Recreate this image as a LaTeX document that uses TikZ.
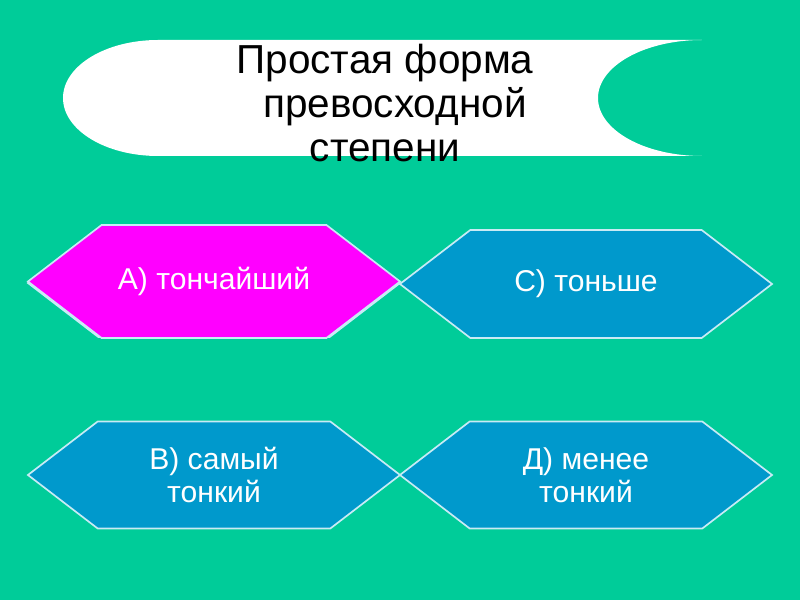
\documentclass[tikz,border=0pt]{standalone}
\usepackage{fontspec}
\setmainfont{Liberation Sans}
\usetikzlibrary{shapes.symbols, positioning}
\definecolor{bggreen}{RGB}{0,204,153}
\definecolor{hexblue}{RGB}{0,153,204}
\definecolor{hexpink}{RGB}{255,0,255}
\definecolor{rimcol}{RGB}{200,235,245}
\tikzstyle{hexbox} = [signal, signal to=west and east, signal pointer angle=75, draw=rimcol, line width=0.6pt, text=white, align=center, minimum width=4.65cm, minimum height=1.35cm, font=\fontsize{10.7}{11.8}\selectfont]
\tikzstyle{titletext} = [align=center, font=\fontsize{14.4}{15.7}\selectfont]

\begin{document}
\begin{tikzpicture}[x=0.0125cm, y=0.0125cm]
        \fill[bggreen] (0,0) rectangle (800,600);
        \useasboundingbox (0,0) rectangle (800,600);
        % white banner
        \fill[white] (158,560) -- (702,560) arc[start angle=90, end angle=270, x radius=104, y radius=58]
            -- (158,444) arc[start angle=270, end angle=90, x radius=95, y radius=58] -- cycle;
        \node[titletext] (title) at (385,497) {Простая форма\\ \hspace*{0.25cm}превосходной\\ степени};
        % answers
        \node[hexbox, fill=hexblue] (shadow) at (214,317) {};
        \node[hexbox, fill=hexpink, minimum height=1.4125cm] (optA) at (214,318.5) {А) тончайший};
        \node[hexbox, fill=hexblue] (optC) at (586,316) {С) тоньше};
        \node[hexbox, fill=hexblue, minimum height=1.3375cm] (optB) at (214,125) {В) самый\\ тонкий};
        \node[hexbox, fill=hexblue, minimum height=1.3375cm] (optD) at (586,125) {Д) менее\\ тонкий};
    \end{tikzpicture}
\end{document}
